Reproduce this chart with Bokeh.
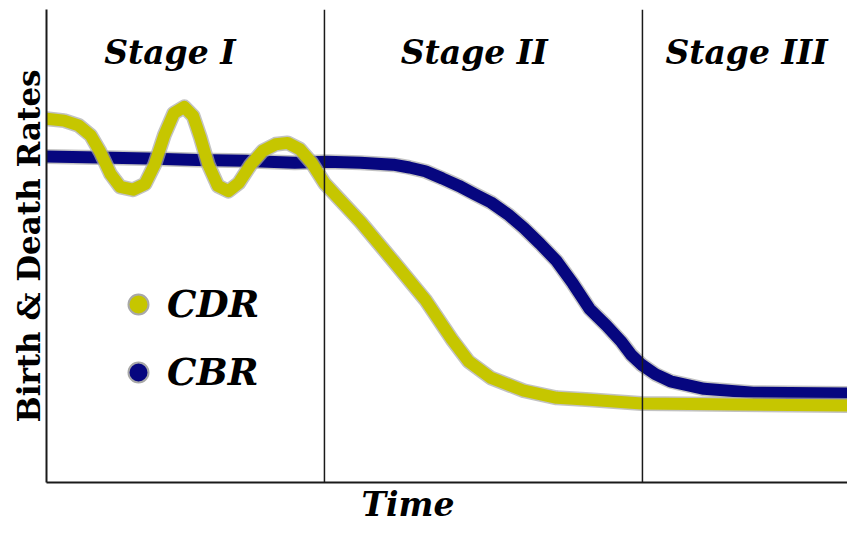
from bokeh.plotting import figure
from bokeh.models import Span, Legend, LegendItem, Title, FixedTicker
from bokeh.core.properties import value
from bokeh.embed import file_html
from bokeh.resources import INLINE

# ---- data (conceptual units 0..100) ----
cdr_x = [0.0, 2.2, 4.0, 5.5, 6.7, 8.0, 9.2, 10.8, 12.3, 13.5, 14.7, 15.9, 17.2, 18.3,
         19.2, 20.2, 21.4, 22.7, 24.0, 25.5, 27.0, 28.6, 30.1, 31.6, 33.1, 34.7, 36.5,
         39.2, 43.3, 47.3, 50.6, 52.7, 55.5, 59.6, 63.7, 67.8, 74.3, 86.2, 100.0]
cdr_y = [76.9, 76.5, 75.5, 73.4, 69.9, 65.2, 62.5, 61.9, 63.1, 67.2, 73.4, 78.1, 79.4, 77.5,
         73.0, 67.2, 62.7, 61.6, 63.3, 67.2, 70.1, 71.5, 71.8, 70.5, 67.6, 63.3, 60.0,
         55.1, 46.8, 38.6, 30.3, 25.6, 22.1, 19.4, 17.9, 17.5, 16.7, 16.5, 16.3]

cbr_x = [0.0, 6.5, 12.6, 18.8, 24.9, 31.0, 35.0, 39.2, 43.3, 45.3, 47.3, 49.4, 51.5, 53.4,
         55.5, 57.6, 59.6, 61.6, 63.7, 65.7, 67.8, 69.9, 71.8, 73.0, 74.3, 76.0, 77.9,
         82.1, 88.2, 100.0]
cbr_y = [68.9, 68.7, 68.5, 68.2, 68.0, 67.6, 67.8, 67.6, 67.2, 66.6, 65.8, 64.3, 62.7, 61.0,
         59.2, 56.7, 53.8, 50.5, 46.8, 42.1, 36.7, 33.2, 29.7, 27.0, 24.9, 22.9, 21.4,
         19.8, 19.0, 18.8]

stage_labels = ["Stage I", "Stage II", "Stage III"]
stage_centers = [15.4, 53.4, 87.4]
stage_bounds = [34.7, 74.4]

YELLOW = "#c6c600"
NAVY = "#06067f"
HALO = "#a8a8a8"

p = figure(width=847, height=523, x_range=(0, 100), y_range=(0, 100),
           output_backend="svg", toolbar_location=None,
           min_border_left=46, min_border_right=0, min_border_top=9, min_border_bottom=0)
p.outline_line_color = None
p.grid.visible = False
p.background_fill_color = "white"

for ax in (p.xaxis[0], p.yaxis[0]):
    ax.ticker = FixedTicker(ticks=[])
    ax.major_tick_line_color = None
    ax.minor_tick_line_color = None
    ax.major_tick_out = 0
    ax.major_label_standoff = 0
    ax.major_label_text_font_size = "0px"
    ax.axis_line_color = "#1a1a1a"
    ax.axis_line_width = 2

p.yaxis.axis_label = "Birth & Death Rates"
p.yaxis.axis_label_text_font = "DejaVu Serif"
p.yaxis.axis_label_text_font_style = "bold"
p.yaxis.axis_label_text_font_size = "31px"
p.yaxis.axis_label_text_color = "black"
p.yaxis.axis_label_standoff = 0

for b in stage_bounds:
    p.add_layout(Span(location=b, dimension="height", line_color="#1a1a1a", line_width=1.5))

# curves with a grey halo
p.line(cbr_x, cbr_y, line_color=HALO, line_width=15, line_alpha=0.7, line_join="round", line_cap="round")
p.line(cbr_x, cbr_y, line_color=NAVY, line_width=12, line_join="round", line_cap="round")
p.line(cdr_x, cdr_y, line_color=HALO, line_width=15, line_alpha=0.7, line_join="round", line_cap="round")
p.line(cdr_x, cdr_y, line_color=YELLOW, line_width=12, line_join="round", line_cap="round")

p.text(x=stage_centers, y=[90.9] * len(stage_centers), text=stage_labels,
       text_align="center", text_baseline="alphabetic",
       text_font=value("DejaVu Serif"), text_font_style="bold italic",
       text_font_size="33px", text_color="black")

# legend with dot markers (NaN points: nothing drawn in the plot area)
nan = float("nan")
r_cdr = p.scatter(x=[nan], y=[nan], marker="circle", fill_color=YELLOW,
                  line_color=HALO, line_width=2)
r_cbr = p.scatter(x=[nan], y=[nan], marker="circle", fill_color=NAVY,
                  line_color=HALO, line_width=2)
legend = Legend(items=[LegendItem(label="CDR", renderers=[r_cdr]),
                       LegendItem(label="CBR", renderers=[r_cbr])],
                location=(67, 85), orientation="vertical",
                glyph_width=50, glyph_height=50, label_standoff=4,
                spacing=18, padding=0, margin=0,
                border_line_color=None, background_fill_alpha=0,
                label_text_font="DejaVu Serif", label_text_font_style="bold italic",
                label_text_font_size="37px", label_text_color="black")
p.add_layout(legend)

t = Title(text="Time", align="left", offset=315, standoff=0, text_line_height=0.8,
          text_font="DejaVu Serif", text_font_style="bold italic",
          text_font_size="33px", text_color="black")
p.add_layout(t, "below")

open("out.html", "w").write(file_html(p, INLINE))
